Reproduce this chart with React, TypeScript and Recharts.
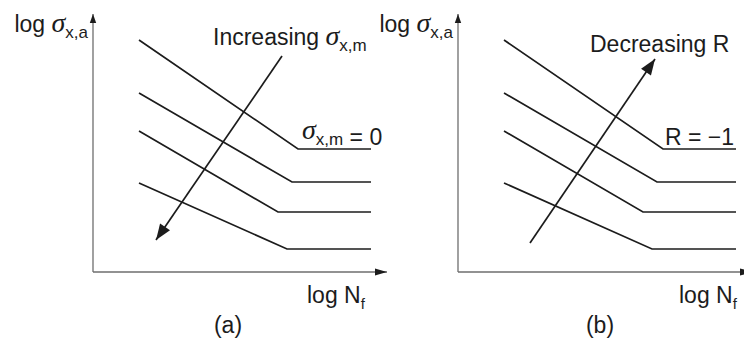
import React from 'react';
import { LineChart, Line, XAxis, YAxis, ReferenceDot } from 'recharts';

// axis ranges in plot units (log N_f across, log sigma_a up)
const nDomain: [number, number] = [0, 29.4];
const sDomain: [number, number] = [0, 25.8];

// each S-N curve: start of the sloped part, the knee, end of the endurance plateau
const curveTop = [
  { n: 4.6, s: 23.2 },
  { n: 20.5, s: 12.3 },
  { n: 27.8, s: 12.3 },
];
const curveSecond = [
  { n: 4.6, s: 17.9 },
  { n: 19.9, s: 9.0 },
  { n: 27.8, s: 9.0 },
];
const curveThird = [
  { n: 4.6, s: 14.1 },
  { n: 18.5, s: 6.0 },
  { n: 27.8, s: 6.0 },
];
const curveBottom = [
  { n: 4.6, s: 8.9 },
  { n: 19.4, s: 2.3 },
  { n: 27.8, s: 2.3 },
];
const curves = [curveTop, curveSecond, curveThird, curveBottom];

// trend arrows, tail first
const arrowIncreasingMean = [
  { n: 18.9, s: 21.6 },
  { n: 6.3, s: 3.2 },
];
const arrowDecreasingR = [
  { n: 7.2, s: 2.9 },
  { n: 19.7, s: 21.3 },
];

const ink = '#1c1c1c';
const axisGray = '#6e6e6e';
const sans = '"Liberation Sans", Arial, Helvetica, sans-serif';
const greek = '"Liberation Serif", "DejaVu Serif", serif';
const textSize = 23;

const chartW = 400;
const chartH = 340;
const margin = { top: 14, right: 13, bottom: 67, left: 92 };
// px per unit along each axis (axes take 1px each)
const kx = (chartW - margin.left - margin.right - 1) / (nDomain[1] - nDomain[0]);
const ky = (chartH - margin.top - margin.bottom - 1) / (sDomain[1] - sDomain[0]);

// filled triangle with its tip at (x, y), pointing along angle (radians, screen coords)
function head(x: number, y: number, angle: number, len: number, half: number, key?: string) {
  const bx = x - len * Math.cos(angle);
  const by = y - len * Math.sin(angle);
  const px = -Math.sin(angle) * half;
  const py = Math.cos(angle) * half;
  const pts = `${x},${y} ${bx + px},${by + py} ${bx - px},${by - py}`;
  return <polygon key={key} points={pts} fill={ink} stroke="none" />;
}

const Sigma = () => (
  <tspan fontFamily={greek} fontStyle="italic" fontSize={28}>
    σ
  </tspan>
);

const Sub = ({ text, back = false }: { text: string; back?: boolean }) => (
  <>
    <tspan fontSize={17} dy={6}>
      {text}
    </tspan>
    {back && <tspan dy={-6}></tspan>}
  </>
);

interface PanelProps {
  caption: string;
  arrow: Array<{ n: number; s: number }>;
  trend: React.ReactNode;
  trendX: number;
  trendY: number;
  baseline: React.ReactNode;
  baselineX: number;
  baselineY: number;
  footShift: number;
}

function Panel({ caption, arrow, trend, trendX, trendY, baseline, baselineX, baselineY, footShift }: PanelProps) {
  const last = arrow.length - 1;
  const dn = arrow[last].n - arrow[last - 1].n;
  const ds = arrow[last].s - arrow[last - 1].s;
  const arrowAngle = Math.atan2(-ds * ky, dn * kx);

  return (
    <LineChart width={chartW} height={chartH} margin={margin}>
      <XAxis
        type="number"
        dataKey="n"
        domain={nDomain}
        allowDataOverflow
        height={1}
        tick={false}
        tickLine={false}
        axisLine={{ stroke: axisGray, strokeWidth: 1.3 }}
      />
      <YAxis
        type="number"
        domain={sDomain}
        allowDataOverflow
        width={1}
        tick={false}
        tickLine={false}
        axisLine={{ stroke: axisGray, strokeWidth: 1.3 }}
      />
      {curves.map((curve, i) => (
        <Line
          key={i}
          data={curve}
          dataKey="s"
          type="linear"
          stroke={ink}
          strokeWidth={1.7}
          dot={false}
          activeDot={false}
          isAnimationActive={false}
        />
      ))}
      <Line
        data={arrow}
        dataKey="s"
        type="linear"
        stroke={ink}
        strokeWidth={1.7}
        activeDot={false}
        isAnimationActive={false}
        dot={(p: any) =>
          p.index === last ? head(p.cx, p.cy, arrowAngle, 16, 6, `tip-${p.index}`) : <g key={`tail-${p.index}`} />
        }
      />
      {/* arrowheads at the ends of both axes */}
      <ReferenceDot
        x={nDomain[1]}
        y={sDomain[0]}
        ifOverflow="visible"
        shape={(p: any) => head(p.cx, p.cy, 0, 12, 3.6)}
      />
      <ReferenceDot
        x={nDomain[0]}
        y={sDomain[1]}
        ifOverflow="visible"
        shape={(p: any) => head(p.cx, p.cy, -Math.PI / 2, 9, 3.2)}
      />

      <text x={88} y={32} textAnchor="end" fontFamily={sans} fontSize={textSize} fill={ink}>
        {'log '}
        <Sigma />
        <Sub text="x,a" />
      </text>
      <text x={trendX} y={trendY} fontFamily={sans} fontSize={textSize} fill={ink}>
        {trend}
      </text>
      <text x={baselineX} y={baselineY} fontFamily={sans} fontSize={textSize} fill={ink}>
        {baseline}
      </text>
      <text x={307 + footShift} y={303} fontFamily={sans} fontSize={textSize} fill={ink}>
        {'log N'}
        <tspan fontSize={15} dy={6}>
          f
        </tspan>
      </text>
      <text x={228 + footShift} y={333} textAnchor="middle" fontFamily={sans} fontSize={textSize} fill={ink}>
        {caption}
      </text>
    </LineChart>
  );
}

export default function App() {
  return (
    <div
      style={{
        position: 'absolute',
        left: 0,
        top: 0,
        width: 744,
        height: 340,
        overflow: 'hidden',
        background: '#fff',
      }}
    >
      <div style={{ position: 'absolute', left: 0, top: 0 }}>
        <Panel
          caption="(a)"
          arrow={arrowIncreasingMean}
          trendX={213}
          trendY={45}
          trend={
            <>
              {'Increasing '}
              <Sigma />
              <Sub text="x,m" />
            </>
          }
          baselineX={302}
          baselineY={139}
          baseline={
            <>
              <Sigma />
              <Sub text="x,m" back />
              {' = 0'}
            </>
          }
          footShift={0}
        />
      </div>
      <div style={{ position: 'absolute', left: 365, top: 0 }}>
        <Panel
          caption="(b)"
          arrow={arrowDecreasingR}
          trendX={225}
          trendY={52}
          trend={<>Decreasing R</>}
          baselineX={300}
          baselineY={145}
          baseline={<>R = −1</>}
          footShift={7}
        />
      </div>
    </div>
  );
}
